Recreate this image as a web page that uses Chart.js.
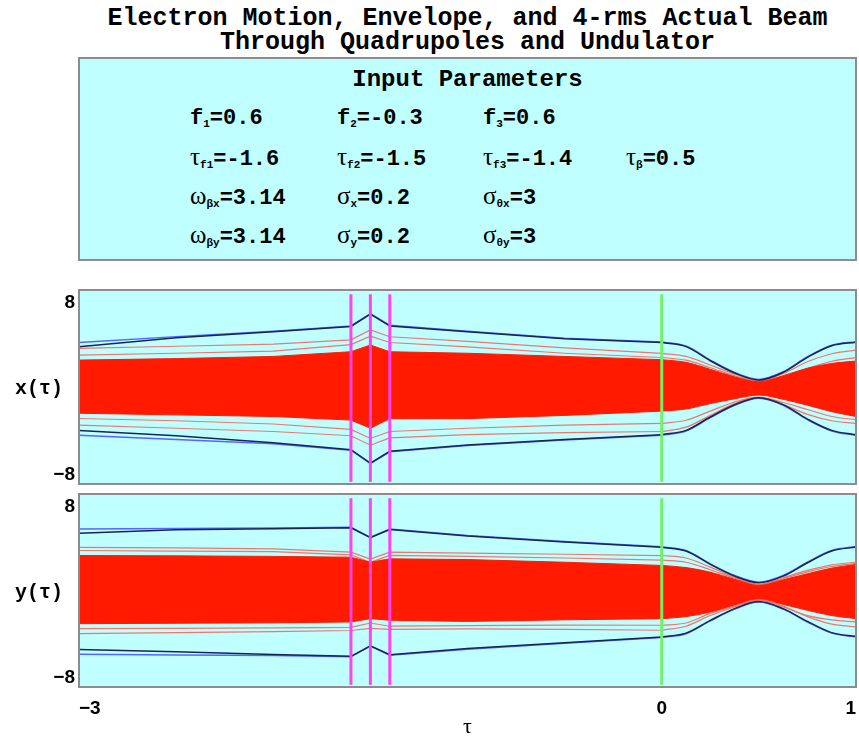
<!DOCTYPE html>
<html>
<head>
<meta charset="utf-8">
<script src="https://cdn.jsdelivr.net/npm/chart.js@4.4.0/dist/chart.umd.min.js"></script>
<style>
body { margin:0; width:859px; height:740px; background:#fff; position:relative; overflow:hidden; font-family:"Liberation Mono", monospace; }
#title { position:absolute; left:79px; top:7px; width:777px; text-align:center; font-weight:bold; font-size:25px; line-height:24px; }
#box { position:absolute; left:78px; top:57px; width:775px; height:200px; background:#bfffff; border:2px solid #8c8c8c; }
#box h2 { position:absolute; left:0; top:9px; width:100%; margin:0; text-align:center; font-size:24px; line-height:24px; }
.p { position:absolute; font-weight:bold; font-size:22px; line-height:22px; white-space:nowrap; }
.g { font-family:"Liberation Serif", serif; font-weight:normal; font-size:25px; }
sub { font-size:11px; vertical-align:-3px; line-height:0; }
.plot { position:absolute; left:0; width:859px; }
</style>
</head>
<body>
<div id="title">Electron Motion, Envelope, and 4-rms Actual Beam<br>Through Quadrupoles and Undulator</div>
<div id="box">
  <h2>Input Parameters</h2>
  <span class="p" style="left:110px;top:49px">f<sub>1</sub>=0.6</span>
  <span class="p" style="left:257px;top:49px">f<sub>2</sub>=-0.3</span>
  <span class="p" style="left:403px;top:49px">f<sub>3</sub>=0.6</span>
  <span class="p" style="left:110px;top:87px"><span class="g">τ</span><sub>f1</sub>=-1.6</span>
  <span class="p" style="left:257px;top:87px"><span class="g">τ</span><sub>f2</sub>=-1.5</span>
  <span class="p" style="left:403px;top:87px"><span class="g">τ</span><sub>f3</sub>=-1.4</span>
  <span class="p" style="left:546px;top:87px"><span class="g">τ</span><sub>β</sub>=0.5</span>
  <span class="p" style="left:110px;top:126px"><span class="g">ω</span><sub>βx</sub>=3.14</span>
  <span class="p" style="left:257px;top:126px"><span class="g">σ</span><sub>x</sub>=0.2</span>
  <span class="p" style="left:403px;top:126px"><span class="g">σ</span><sub>θx</sub>=3</span>
  <span class="p" style="left:110px;top:165px"><span class="g">ω</span><sub>βy</sub>=3.14</span>
  <span class="p" style="left:257px;top:165px"><span class="g">σ</span><sub>y</sub>=0.2</span>
  <span class="p" style="left:403px;top:165px"><span class="g">σ</span><sub>θy</sub>=3</span>
</div>
<div class="plot" style="top:285px;height:205px"><canvas id="cx"></canvas></div>
<div class="plot" style="top:490px;height:250px"><canvas id="cy"></canvas></div>
<script>
// sample points along tau (index 8 is the undulator entrance, tau = 0)
var tau = [-3, -2.5, -2, -1.6, -1.5, -1.4, -1, -0.5, 0, 0.125, 0.25, 0.375, 0.5, 0.625, 0.75, 0.875, 1];
var undStart = 8;

// x plane
var xEnvUp  = [4.3, 4.85, 5.35, 5.85, 7.0, 5.9, 5.36, 4.7, 4.35, 3.97, 2.66, 1.51, 0.86, 1.57, 2.97, 4.05, 4.38];
var xEnvLo  = [-4.35, -4.75, -5.15, -5.75, -7.0, -5.9, -5.3, -4.8, -4.35, -3.95, -2.7, -1.55, -0.9, -1.55, -2.9, -3.95, -4.35];
var xRmsUp  = [3.9, 4.75, 5.3, 5.8, 6.95, 5.85, 5.3, 4.65, 4.3, 3.92, 2.6, 1.46, 0.8, 1.52, 2.92, 4.0, 4.33];
var xRmsLo  = [-3.9, -4.4, -5.05, -5.7, -6.95, -5.85, -5.25, -4.75, -4.3, -3.9, -2.65, -1.5, -0.85, -1.5, -2.85, -3.9, -4.3];
var xCoreUp = [2.66, 2.8, 3.0, 3.44, 4.07, 3.44, 3.3, 3.0, 2.7, 2.45, 1.8, 1.1, 0.64, 1.2, 1.9, 2.35, 2.57];
var xCoreLo = [-2.3, -2.45, -2.6, -2.94, -3.7, -2.8, -2.8, -2.5, -2.1, -1.9, -1.4, -0.95, -0.6, -1.0, -1.55, -2.15, -2.6];
var xRay1   = [3.75, 3.95, 4.15, 4.55, 5.47, 4.84, 4.4, 3.8, 3.29, 3.0, 2.2, 1.35, 0.75, 1.4, 2.5, 3.25, 3.6];
var xRay2   = [3.13, 3.3, 3.5, 4.1, 4.9, 4.3, 3.9, 3.3, 2.9, 2.65, 1.95, 1.2, 0.7, 1.15, 1.9, 2.55, 2.9];
var xRay3   = [-2.79, -3.0, -3.3, -3.8, -4.65, -4.0, -3.7, -3.4, -3.25, -2.95, -2.1, -1.25, -0.8, -1.3, -1.95, -2.6, -2.9];
var xRay4   = [-3.4, -3.7, -4.0, -4.4, -5.28, -4.6, -4.3, -4.1, -4.0, -3.6, -2.5, -1.4, -0.85, -1.5, -2.4, -3.0, -3.25];

// y plane
var yEnvUp  = [5.92, 5.97, 6.0, 6.08, 5.14, 5.92, 5.3, 4.75, 4.25, 3.9, 2.65, 1.56, 0.93, 1.56, 2.8, 3.9, 4.27];
var yEnvLo  = [-5.82, -5.9, -5.95, -6.07, -5.07, -5.92, -5.35, -4.8, -4.25, -3.9, -2.7, -1.6, -0.93, -1.6, -2.8, -3.85, -4.2];
var yRmsUp  = [5.52, 5.85, 5.95, 6.03, 5.1, 5.87, 5.25, 4.7, 4.2, 3.85, 2.6, 1.5, 0.88, 1.5, 2.75, 3.85, 4.22];
var yRmsLo  = [-5.39, -5.6, -5.85, -6.02, -5.03, -5.87, -5.3, -4.75, -4.2, -3.85, -2.65, -1.55, -0.88, -1.55, -2.75, -3.8, -4.15];
var yCoreUp = [3.43, 3.4, 3.35, 3.27, 2.8, 3.12, 3.05, 2.8, 2.5, 2.3, 1.87, 1.2, 0.62, 1.15, 1.72, 2.25, 2.59];
var yCoreLo = [-2.96, -2.92, -2.88, -2.8, -2.49, -2.64, -2.75, -2.6, -2.49, -2.3, -1.87, -1.2, -0.62, -1.15, -1.71, -2.2, -2.49];
var yRay1   = [4.2, 4.15, 4.05, 3.74, 3.1, 3.74, 3.65, 3.55, 3.43, 3.2, 2.34, 1.4, 0.72, 1.35, 2.03, 2.55, 2.8];
var yRay2   = [3.9, 3.85, 3.8, 3.5, 2.8, 3.45, 3.35, 3.2, 3.0, 2.8, 2.1, 1.3, 0.68, 1.25, 1.9, 2.4, 2.7];
var yRay3   = [-3.42, -3.4, -3.35, -3.3, -2.9, -3.2, -3.15, -3.1, -3.11, -2.9, -2.0, -1.3, -0.7, -1.3, -2.3, -3.0, -3.27];
var yRay4   = [-3.89, -3.8, -3.7, -3.6, -3.4, -3.5, -3.45, -3.5, -3.58, -3.2, -2.2, -1.4, -0.75, -1.4, -2.2, -2.6, -2.8];

// quadrupole and undulator positions
var quadTau = [-1.6, -1.5, -1.4];
var undTau = [0];
var lineSpan = [-8.7, 8.8];

var yTicks = [-8, 8];
var xTicks = [-3, 0, 1];

function pts(v, a, b) {
  var out = [];
  for (var i = a; i <= b; i++) out.push({ x: tau[i], y: v[i] });
  return out;
}
function vline(t, color) {
  return { data: [{ x: t, y: lineSpan[0] }, { x: t, y: lineSpan[1] }], borderColor: color, borderWidth: 3, order: 0 };
}
function minus(v) { return String(v).replace('-', '\u2212'); }
function noPad(s) { s.paddingTop = 0; s.paddingBottom = 0; s.paddingLeft = 0; s.paddingRight = 0; }

var frame = {
  id: 'frame',
  beforeDraw: function (chart) {
    var a = chart.chartArea, c = chart.ctx;
    c.save();
    c.fillStyle = '#bfffff';
    c.fillRect(a.left, a.top, a.right - a.left, a.bottom - a.top);
    c.restore();
  },
  afterDraw: function (chart, args, opts) {
    var a = chart.chartArea, c = chart.ctx;
    c.save();
    c.strokeStyle = '#8c8c8c';
    c.lineWidth = 2;
    c.strokeRect(a.left, a.top, a.right - a.left, a.bottom - a.top);
    c.fillStyle = '#000';
    c.font = 'bold 20px "Liberation Mono"';
    c.textAlign = 'center';
    c.textBaseline = 'middle';
    c.fillText(opts.label, 39, (a.top + a.bottom) / 2 + 2);
    c.restore();
  }
};

function makeChart(id, d, label, bottom) {
  var red = '#ff1a00', light = 'rgba(240,105,95,0.9)';
  var last = tau.length - 1;
  var datasets = [];
  quadTau.forEach(function (t) { datasets.push(vline(t, '#ff44ee')); });
  undTau.forEach(function (t) { datasets.push(vline(t, '#77ee66')); });

  // drift part drawn straight, undulator part smooth
  [[0, undStart, {}], [undStart, last, { cubicInterpolationMode: 'monotone' }]].forEach(function (part) {
    var a = part[0], b = part[1], extra = part[2];
    function add(ds) { datasets.push(Object.assign(ds, extra)); }
    add({ data: pts(d.rmsUp, a, b), borderColor: '#1c2450', borderWidth: 1.5, order: 1 });
    add({ data: pts(d.rmsLo, a, b), borderColor: '#1c2450', borderWidth: 1.5, order: 1 });
    add({ data: pts(d.envUp, a, b), borderColor: '#5566ff', borderWidth: 1.5, order: 2 });
    add({ data: pts(d.envLo, a, b), borderColor: '#5566ff', borderWidth: 1.5, order: 2 });
    add({ data: pts(d.coreUp, a, b), borderColor: red, borderWidth: 1, order: 3 });
    add({ data: pts(d.coreLo, a, b), borderColor: red, borderWidth: 1, backgroundColor: red, fill: '-1', order: 3 });
    d.rays.forEach(function (r) {
      add({ data: pts(r, a, b), borderColor: light, borderWidth: 1.2, order: 4 });
    });
  });

  return new Chart(id, {
    type: 'line',
    data: { datasets: datasets },
    plugins: [frame],
    options: {
      animation: false,
      responsive: true,
      maintainAspectRatio: false,
      layout: { padding: bottom ? { left: 0, right: 3, top: 4, bottom: 0 } : { left: 0, right: 3, top: 5, bottom: 6 } },
      elements: { point: { radius: 0 }, line: { tension: 0 } },
      plugins: { legend: { display: false }, tooltip: { enabled: false }, frame: { label: label } },
      scales: {
        x: {
          type: 'linear', min: -3, max: 1,
          display: bottom,
          grid: { display: false, drawTicks: false },
          border: { display: false },
          afterBuildTicks: function (s) { s.ticks = xTicks.map(function (v) { return { value: v }; }); },
          afterFit: function (s) { noPad(s); s.height = bottom ? 53 : 0; },
          ticks: { align: 'inner', padding: 10, color: '#000', font: { family: '"Liberation Sans"', weight: 'bold', size: 19 }, callback: minus },
          title: { display: true, text: '\u03c4', color: '#000', padding: 0, font: { family: '"Liberation Serif"', size: 22 } }
        },
        y: {
          type: 'linear', min: -8.9, max: 9.2,
          grid: { display: false, drawTicks: false },
          border: { display: false },
          afterBuildTicks: function (s) { s.ticks = yTicks.map(function (v) { return { value: v }; }); },
          afterFit: function (s) { noPad(s); s.width = 79; },
          ticks: { padding: 4, color: '#000', font: { family: '"Liberation Sans"', weight: 'bold', size: 19 }, callback: minus }
        }
      }
    }
  });
}

makeChart('cx', { envUp: xEnvUp, envLo: xEnvLo, rmsUp: xRmsUp, rmsLo: xRmsLo, coreUp: xCoreUp, coreLo: xCoreLo, rays: [xRay1, xRay2, xRay3, xRay4] }, 'x(\u03c4)', false);
makeChart('cy', { envUp: yEnvUp, envLo: yEnvLo, rmsUp: yRmsUp, rmsLo: yRmsLo, coreUp: yCoreUp, coreLo: yCoreLo, rays: [yRay1, yRay2, yRay3, yRay4] }, 'y(\u03c4)', true);
</script>
</body>
</html>
